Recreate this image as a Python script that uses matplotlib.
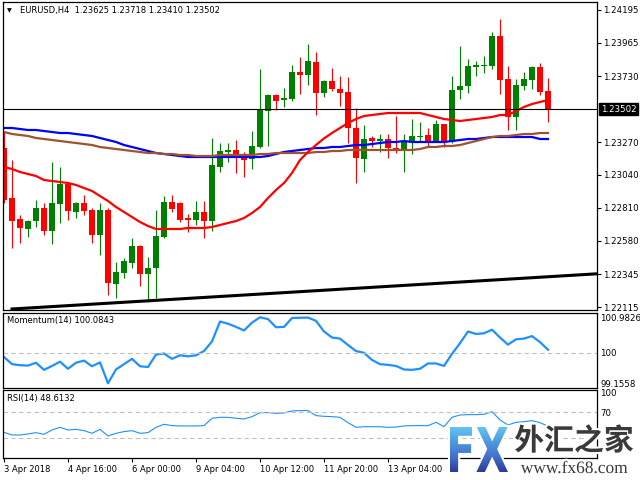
import matplotlib.pyplot as plt
import matplotlib.patheffects as pe
from matplotlib.transforms import blended_transform_factory, Affine2D
from matplotlib.textpath import TextPath
from matplotlib.font_manager import FontProperties
from matplotlib.patches import PathPatch
from matplotlib.colors import LinearSegmentedColormap
import numpy as np

# ----- datos (EURUSD H4) -----
opens = [1.23229, 1.22879, 1.22732, 1.22662, 1.22718, 1.22809, 1.22648, 1.22837, 1.22977, 1.22781,
         1.22844, 1.22795, 1.22620, 1.22795, 1.22277, 1.22354, 1.22424, 1.22543, 1.22347, 1.22389,
         1.22606, 1.22851, 1.22844, 1.22739, 1.22725, 1.22781, 1.22718, 1.23096, 1.23201, 1.23215,
         1.23180, 1.23152, 1.23236, 1.23488, 1.23600, 1.23565, 1.23572, 1.23761, 1.23740, 1.23831,
         1.23614, 1.23698, 1.23642, 1.23621, 1.23369, 1.23152, 1.23299, 1.23278, 1.23292, 1.23229,
         1.23222, 1.23278, 1.23306, 1.23320, 1.23278, 1.23397, 1.23271, 1.23635, 1.23663, 1.23796,
         1.23803, 1.23803, 1.24013, 1.23712, 1.23446, 1.23663, 1.23705, 1.23796, 1.23625]
highs = [1.23341, 1.23145, 1.22760, 1.22725, 1.22865, 1.22844, 1.23131, 1.23096, 1.22984, 1.22851,
         1.22900, 1.22809, 1.22844, 1.22809, 1.22431, 1.22459, 1.22599, 1.22550, 1.22466, 1.22795,
         1.22893, 1.22900, 1.22851, 1.22767, 1.22858, 1.22858, 1.23299, 1.23264, 1.23264, 1.23285,
         1.23201, 1.23348, 1.23782, 1.23607, 1.23607, 1.23649, 1.23810, 1.23866, 1.23957, 1.23901,
         1.23705, 1.23789, 1.23733, 1.23726, 1.23509, 1.23390, 1.23313, 1.23327, 1.23327, 1.23453,
         1.23327, 1.23432, 1.23411, 1.23369, 1.23425, 1.23397, 1.23733, 1.23943, 1.23852, 1.23838,
         1.23873, 1.24041, 1.24132, 1.23803, 1.23712, 1.23761, 1.23803, 1.23824, 1.23718]
lows = [1.22844, 1.22529, 1.22564, 1.22606, 1.22676, 1.22620, 1.22557, 1.22704, 1.22725, 1.22739,
        1.22760, 1.22564, 1.22480, 1.22200, 1.22179, 1.22319, 1.22389, 1.22263, 1.22151, 1.22179,
        1.22599, 1.22781, 1.22711, 1.22641, 1.22690, 1.22599, 1.22648, 1.23061, 1.23131, 1.23054,
        1.23026, 1.23082, 1.23229, 1.23243, 1.23495, 1.23516, 1.23558, 1.23607, 1.23670, 1.23460,
        1.23586, 1.23628, 1.23523, 1.23264, 1.22984, 1.23061, 1.23236, 1.23201, 1.23159, 1.23194,
        1.23061, 1.23187, 1.23271, 1.23236, 1.23271, 1.23236, 1.23264, 1.23572, 1.23614, 1.23733,
        1.23754, 1.23782, 1.23607, 1.23355, 1.23355, 1.23635, 1.23642, 1.23600, 1.23410]
closes = [1.22865, 1.22718, 1.22669, 1.22718, 1.22809, 1.22648, 1.22844, 1.22977, 1.22788, 1.22844,
          1.22788, 1.22620, 1.22795, 1.22284, 1.22361, 1.22438, 1.22543, 1.22347, 1.22389, 1.22613,
          1.22851, 1.22802, 1.22725, 1.22725, 1.22781, 1.22718, 1.23110, 1.23208, 1.23215, 1.23159,
          1.23145, 1.23243, 1.23502, 1.23600, 1.23558, 1.23579, 1.23761, 1.23740, 1.23838, 1.23614,
          1.23698, 1.23642, 1.23614, 1.23369, 1.23159, 1.23292, 1.23278, 1.23292, 1.23229, 1.23222,
          1.23271, 1.23313, 1.23313, 1.23278, 1.23397, 1.23271, 1.23635, 1.23663, 1.23803, 1.23810,
          1.23810, 1.24013, 1.23705, 1.23446, 1.23670, 1.23712, 1.23796, 1.23621, 1.23502]

# medias moviles (rapida, 100, 200)
ma_red = [1.23096, 1.23082, 1.23061, 1.23047, 1.23033, 1.23005, 1.22998, 1.22991, 1.22984, 1.22970,
          1.22949, 1.22928, 1.22893, 1.22858, 1.22816, 1.22781, 1.22746, 1.22711, 1.22683, 1.22662,
          1.22662, 1.22662, 1.22662, 1.22669, 1.22669, 1.22669, 1.22676, 1.22690, 1.22704, 1.22718,
          1.22739, 1.22774, 1.22816, 1.22879, 1.22935, 1.22984, 1.23054, 1.23145, 1.23201, 1.23250,
          1.23296, 1.23334, 1.23369, 1.23404, 1.23432, 1.23453, 1.23460, 1.23467, 1.23474, 1.23474,
          1.23474, 1.23474, 1.23474, 1.23460, 1.23446, 1.23432, 1.23425, 1.23418, 1.23425, 1.23432,
          1.23439, 1.23446, 1.23460, 1.23460, 1.23488, 1.23516, 1.23537, 1.23551, 1.23565]
ma_blue = [1.23369, 1.23369, 1.23362, 1.23355, 1.23355, 1.23348, 1.23341, 1.23334, 1.23334, 1.23327,
           1.23320, 1.23313, 1.23299, 1.23285, 1.23271, 1.23250, 1.23236, 1.23222, 1.23208, 1.23194,
           1.23187, 1.23180, 1.23173, 1.23166, 1.23166, 1.23166, 1.23166, 1.23166, 1.23166, 1.23166,
           1.23166, 1.23166, 1.23166, 1.23173, 1.23187, 1.23201, 1.23208, 1.23215, 1.23222, 1.23229,
           1.23229, 1.23236, 1.23236, 1.23243, 1.23250, 1.23250, 1.23257, 1.23264, 1.23271, 1.23271,
           1.23278, 1.23271, 1.23271, 1.23271, 1.23271, 1.23271, 1.23278, 1.23285, 1.23292, 1.23292,
           1.23299, 1.23306, 1.23306, 1.23306, 1.23306, 1.23306, 1.23306, 1.23292, 1.23292]
ma_brown = [1.23341, 1.23327, 1.23320, 1.23313, 1.23299, 1.23292, 1.23285, 1.23278, 1.23271, 1.23264,
            1.23257, 1.23250, 1.23236, 1.23229, 1.23222, 1.23215, 1.23208, 1.23201, 1.23194, 1.23194,
            1.23187, 1.23187, 1.23180, 1.23180, 1.23173, 1.23173, 1.23173, 1.23180, 1.23180, 1.23180,
            1.23180, 1.23180, 1.23187, 1.23187, 1.23194, 1.23194, 1.23194, 1.23194, 1.23194, 1.23201,
            1.23201, 1.23208, 1.23208, 1.23215, 1.23215, 1.23215, 1.23215, 1.23215, 1.23215, 1.23215,
            1.23215, 1.23215, 1.23222, 1.23236, 1.23236, 1.23243, 1.23243, 1.23250, 1.23264, 1.23278,
            1.23292, 1.23306, 1.23313, 1.23313, 1.23320, 1.23327, 1.23327, 1.23334, 1.23334]

momentum = [99.882, 99.686, 99.656, 99.646, 99.725, 99.528, 99.636, 99.754, 99.558, 99.725,
            99.784, 99.627, 99.735, 99.1558, 99.538, 99.686, 99.833, 99.627, 99.607, 99.951,
            99.980, 99.833, 99.931, 99.902, 99.931, 100.049, 100.314, 100.865, 100.806, 100.717,
            100.619, 100.835, 100.9826, 100.933, 100.707, 100.717, 100.963, 100.970, 100.975, 100.884,
            100.590, 100.423, 100.393, 100.216, 100.049, 100.000, 99.803, 99.686, 99.666, 99.636,
            99.538, 99.528, 99.558, 99.705, 99.705, 99.636, 99.971, 100.265, 100.590, 100.521,
            100.540, 100.639, 100.423, 100.226, 100.373, 100.393, 100.462, 100.295, 100.0843]
rsi = [39.2, 35.1, 35.1, 36.7, 38.7, 36.2, 42.8, 46.9, 42.8, 43.8,
       41.8, 37.7, 43.8, 33.6, 37.7, 40.3, 41.8, 37.7, 38.7, 46.9,
       51.5, 49.5, 49.0, 49.0, 49.0, 49.5, 60.8, 62.3, 62.3, 60.8,
       59.7, 63.3, 69.5, 69.5, 68.5, 69.0, 72.1, 72.6, 72.6, 64.9,
       63.8, 63.3, 62.3, 54.1, 46.9, 47.9, 47.9, 47.9, 46.9, 47.4,
       49.0, 49.5, 49.5, 49.5, 54.6, 47.9, 62.3, 65.9, 66.4, 66.4,
       66.9, 71.0, 58.2, 50.5, 54.6, 55.6, 57.2, 54.1, 48.6132]

trend_x = [1, 74]
trend_y = [1.22102, 1.22348]
last_price = 1.23502

price_ticks = [1.24195, 1.23965, 1.23730, 1.23270, 1.23040, 1.22810, 1.22580, 1.22345, 1.22115]
date_pos = [0, 8, 16, 24, 32, 40, 48]
date_labels = ['3 Apr 2018', '4 Apr 16:00', '6 Apr 00:00', '9 Apr 04:00',
               '10 Apr 12:00', '11 Apr 20:00', '13 Apr 04:00']

#---------------------- figura ---------------------------#
W, H = 640, 480
fig = plt.figure(figsize=(6.4, 4.8), dpi=100)
FS = 6.0
FSY = 6.2

def caja(top, bottom, left=3, right=597):
    return [left/W, 1 - bottom/H, (right - left)/W, (bottom - top)/H]

ax = fig.add_axes(caja(2, 310))
axm = fig.add_axes(caja(312.5, 388), sharex=ax)
axr = fig.add_axes(caja(390, 458), sharex=ax)

x = np.arange(len(opens))
o, h, l, c = map(np.array, (opens, highs, lows, closes))
col = np.where(c >= o, '#008000', '#FF0000')

# velas
ax.vlines(x, l, h, colors=col, linewidth=0.8)
alto = np.maximum(np.abs(c - o), 0.00007)
ax.bar(x, alto, bottom=np.minimum(o, c), width=0.7, color=col, linewidth=0)

ax.plot(x, ma_blue, color='#0000FF', lw=1.6)
ax.plot(x, ma_brown, color='#A0522D', lw=1.6)
ax.plot(x, ma_red, color='#FF0000', lw=1.6)
ax.plot(trend_x, trend_y, color='black', lw=2.2)
ax.axhline(last_price, color='black', lw=0.8)

ax.set_xlim(-0.125, 74.125)
ax.set_ylim(1.24265 - 0.00007*310, 1.24265 - 0.00007*2)

# indicadores
axm.plot(x, momentum, color='#1E90FF', lw=1.6)
axm.axhline(100, color='#C0C0C0', lw=0.8, ls=(0, (4, 3)))
axm.set_ylim(99.0257, 101.1155)

axr.plot(x, rsi, color='#1E90FF', lw=0.8)
for lv in (70, 30):
    axr.axhline(lv, color='#C0C0C0', lw=0.8, ls=(0, (4, 3)))
axr.set_ylim(-0.3, 104.3)

for a in (ax, axm, axr):
    for s in a.spines.values():
        s.set_linewidth(0.9)
        s.set_color('black')
    a.yaxis.tick_right()

ax.set_yticks(price_ticks)
ax.set_yticklabels(['%.5f' % p for p in price_ticks])
ax.tick_params(axis='y', length=3, width=0.8, pad=1.5, labelsize=FSY)
axm.set_yticks([100.9826, 100, 99.1558])
axm.set_yticklabels(['100.9826', '100', '99.1558'])
axr.set_yticks([100, 70])
axr.set_yticklabels(['100', '70'])
for a in (axm, axr):
    a.tick_params(axis='y', length=0, pad=2.5, labelsize=FSY)

for a in (ax, axm):
    a.tick_params(axis='x', length=0, labelbottom=False)
axr.set_xticks(date_pos)
axr.set_xticklabels(date_labels, ha='left')
axr.tick_params(axis='x', length=3, width=0.8, pad=2, labelsize=FS)

# etiqueta del ultimo precio
tr = blended_transform_factory(ax.transAxes, ax.transData)
ax.text(1.006, last_price, '%.5f' % last_price, transform=tr, color='white', fontsize=FSY,
        va='center', ha='left', bbox=dict(boxstyle='square,pad=0.2', fc='black', ec='black'))

# textos
fig.text(9/W, 1 - 11/H, '\u25BC', fontsize=4.5, va='center', ha='center')
fig.text(20/W, 1 - 11/H, 'EURUSD,H4  1.23625 1.23718 1.23410 1.23502', fontsize=FS, va='center')
fig.text(7/W, 1 - 321/H, 'Momentum(14) 100.0843', fontsize=FS, va='center')
fig.text(7/W, 1 - 399/H, 'RSI(14) 48.6132', fontsize=FS, va='center')

# marca de agua (coordenadas en pixeles, y hacia arriba desde abajo)
axl = fig.add_axes([440/W, 0, 200/W, 62/H])
axl.axis('off')
tp = TextPath((0, 0), 'FX', size=1, prop=FontProperties(family='DejaVu Sans', weight='bold'))
bb = tp.get_extents()
x0, x1, y0, y1 = 450, 508, 8, 53
t = Affine2D().translate(-bb.x0, -bb.y0).scale((x1 - x0)/bb.width, (y1 - y0)/bb.height).translate(x0, y0)
fx_path = t.transform_path(tp)
axl.add_patch(PathPatch(fx_path, fc='none', ec='white', lw=3, zorder=1))
cmap = LinearSegmentedColormap.from_list('fx', ['#2B3C9C', '#4270C8', '#4F98DE', '#62C4F2'])
grad = np.linspace(0, 1, 100).reshape(-1, 1)
img = axl.imshow(grad, cmap=cmap, extent=(x0, x1, y0, y1), origin='lower', aspect='auto', zorder=2)
clip = PathPatch(fx_path, fc='none', ec='none', transform=axl.transData)
img.set_clip_path(clip)
axl.set_xlim(440, 640)
axl.set_ylim(0, 62)

halo = [pe.withStroke(linewidth=3, foreground='white')]
fig.text(574/W, 1 - 441/H, '外汇之家', fontsize=21.5, fontweight='bold', color='#3A3A3A',
         family=['Noto Sans CJK SC', 'DejaVu Sans'], va='center', ha='center', path_effects=halo)
fig.text(574/W, 1 - 469/H, 'www.fx68.com', fontsize=12.5, color='#3A3A3A',
         family=['Liberation Serif', 'DejaVu Serif'], va='center', ha='center', path_effects=halo)

plt.savefig('out.png', dpi=100, facecolor='white')
